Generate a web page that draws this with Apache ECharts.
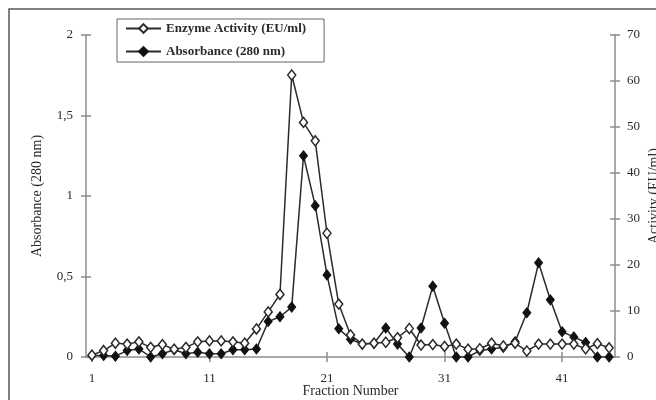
<!DOCTYPE html>
<html>
<head>
<meta charset="utf-8">
<script src="https://cdn.jsdelivr.net/npm/echarts@6/dist/echarts.min.js"></script>
<style>
  html, body { margin: 0; padding: 0; background: #fff; }
  #chart { width: 656px; height: 400px; }
</style>
</head>
<body>
<div id="chart"></div>
<script>
// fraction numbers 1..45
const fractions = ['1','2','3','4','5','6','7','8','9','10','11','12','13','14','15',
  '16','17','18','19','20','21','22','23','24','25','26','27','28','29','30',
  '31','32','33','34','35','36','37','38','39','40','41','42','43','44','45'];
// enzyme activity, EU/ml (right axis)
const activity = [0.4, 1.4, 3.0, 2.8, 3.3, 2.1, 2.7, 1.7, 2.1, 3.3, 3.5, 3.5, 3.3, 3.0, 6.1,
  9.8, 13.6, 61.3, 51.0, 47.0, 26.9, 11.5, 4.8, 2.8, 3.0, 3.2, 4.2, 6.2, 2.6, 2.7,
  2.3, 2.8, 1.7, 1.8, 3.0, 2.4, 3.0, 1.3, 2.8, 2.8, 2.8, 2.8, 1.8, 2.9, 2.0];
// absorbance at 280 nm (left axis)
const absorbance = [0.01, 0.01, 0.005, 0.04, 0.05, 0.0, 0.02, 0.045, 0.02, 0.03, 0.02, 0.02, 0.045, 0.045, 0.05,
  0.22, 0.25, 0.31, 1.25, 0.94, 0.51, 0.175, 0.11, 0.08, 0.085, 0.18, 0.08, 0.0, 0.18, 0.44,
  0.21, 0.0, 0.0, 0.04, 0.05, 0.06, 0.095, 0.275, 0.585, 0.355, 0.157, 0.125, 0.09, 0.0, 0.0];

const serif = 'Liberation Serif';
const axisGrey = '#8c8c8c';
const ink = '#2a2a2a';

const chart = echarts.init(document.getElementById('chart'));

const catAxis = (outer) => ({
  type: 'category',
  position: 'bottom',
  data: fractions,
  boundaryGap: true,
  axisLine: { show: outer, lineStyle: { color: axisGrey, width: 1.5 } },
  axisTick: { show: true, inside: !outer, length: 5, interval: 9, alignWithLabel: true,
    lineStyle: { color: axisGrey, width: 1.5 } },
  axisLabel: { show: outer, interval: 9, margin: 15, color: ink, fontFamily: serif, fontSize: 13 },
  splitLine: { show: false },
  name: outer ? 'Fraction Number' : '',
  nameLocation: 'middle',
  nameGap: 27,
  nameMoveOverlap: false,
  nameTextStyle: { color: ink, fontFamily: serif, fontSize: 14 }
});

const valAxis = (side, max, step, outer, title, fmt) => ({
  type: 'value',
  position: side,
  min: 0,
  max: max,
  interval: step,
  axisLine: { show: outer, lineStyle: { color: axisGrey, width: 1.5 } },
  axisTick: { show: true, inside: !outer, length: 5, lineStyle: { color: axisGrey, width: 1.5 } },
  axisLabel: { show: outer, margin: side === 'left' ? 13 : 12, color: ink, fontFamily: serif, fontSize: 13,
    formatter: fmt },
  splitLine: { show: false },
  name: outer ? title : '',
  nameLocation: 'middle',
  nameRotate: 90,
  nameGap: side === 'left' ? 42 : 32,
  nameMoveOverlap: false,
  nameTextStyle: { color: ink, fontFamily: serif, fontSize: 14 }
});

const comma = v => String(v).replace('.', ',');

chart.setOption({
  animation: false,
  backgroundColor: '#fff',
  graphic: [{
    type: 'rect',
    shape: { x: 9, y: 9, width: 700, height: 450 },
    style: { fill: 'none', stroke: '#555', lineWidth: 1.5 },
    silent: true
  }],
  grid: { left: 86, right: 41, top: 35, bottom: 43, outerBoundsMode: 'none', containLabel: false },
  legend: {
    orient: 'vertical',
    left: 117,
    top: 19,
    padding: [3, 18, 4, 8],
    itemWidth: 35,
    itemHeight: 11,
    itemGap: 10,
    borderColor: '#666',
    borderWidth: 1,
    textStyle: { color: ink, fontFamily: serif, fontSize: 13, fontWeight: 'bold' },
    data: ['Enzyme Activity (EU/ml)', 'Absorbance (280 nm)']
  },
  xAxis: [catAxis(true), catAxis(false)],
  yAxis: [
    valAxis('left', 2, 0.5, true, 'Absorbance (280 nm)', comma),
    valAxis('right', 70, 10, true, 'Activity (EU/ml)', v => v),
    valAxis('left', 2, 0.5, false, '', comma),
    valAxis('right', 70, 10, false, '', v => v)
  ],
  series: [
    {
      name: 'Enzyme Activity (EU/ml)',
      type: 'line',
      xAxisIndex: 0,
      yAxisIndex: 1,
      data: activity,
      symbol: 'diamond',
      symbolSize: [8, 10],
      showAllSymbol: true,
      lineStyle: { color: ink, width: 1.5 },
      itemStyle: { color: '#fff', borderColor: ink, borderWidth: 1.5 },
      z: 3
    },
    {
      name: 'Absorbance (280 nm)',
      type: 'line',
      xAxisIndex: 0,
      yAxisIndex: 0,
      data: absorbance,
      symbol: 'diamond',
      symbolSize: [8, 10],
      showAllSymbol: true,
      lineStyle: { color: ink, width: 1.5 },
      itemStyle: { color: '#111', borderColor: '#111', borderWidth: 1 },
      z: 2
    }
  ]
});
</script>
</body>
</html>
